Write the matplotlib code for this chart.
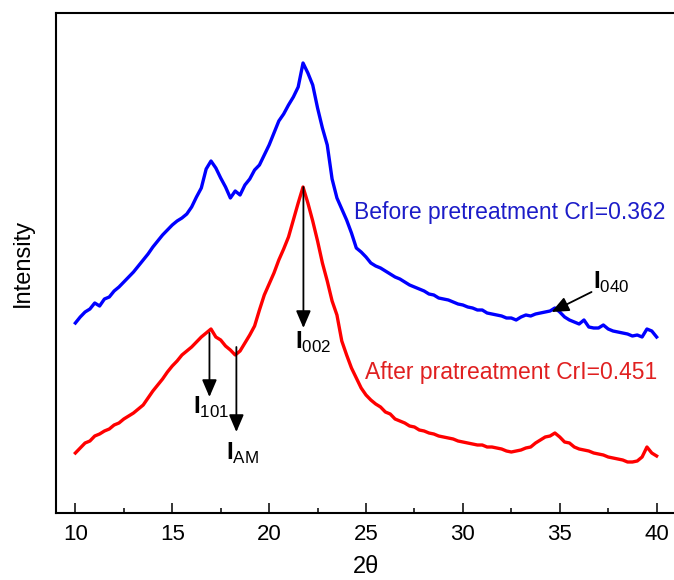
import numpy as np
import matplotlib
matplotlib.use('Agg')
import matplotlib.pyplot as plt

plt.rcParams['font.family'] = ['Liberation Sans', 'DejaVu Sans']
plt.rcParams['mathtext.fontset'] = 'custom'
plt.rcParams['mathtext.rm'] = 'Liberation Sans'
plt.rcParams['mathtext.bf'] = 'Liberation Sans:bold'

# 2theta sampling (deg) and intensities (arb. units, offset curves)
two_theta = np.arange(10, 40.001, 0.25)

before = [190, 196, 201, 204, 210, 207, 214, 216, 222, 226, 231, 236,
          241, 247, 253, 259, 266, 272, 278, 283, 288, 292, 295, 299,
          306, 316, 325, 344, 352, 345, 335, 326, 315, 322, 318, 328,
          334, 343, 348, 358, 368, 380, 392, 399, 408, 416, 426, 450,
          440, 428, 405, 385, 368, 334, 315, 304, 293, 280, 265, 261,
          256, 250, 247, 245, 242, 239, 236, 234, 231, 228, 226, 224,
          222, 219, 218, 215, 214, 213, 211, 209, 208, 206, 205, 203,
          203, 200, 199, 198, 197, 195, 195, 193, 196, 198, 197, 199,
          200, 201, 202, 205, 201, 196, 193, 191, 189, 193, 186, 185,
          185, 188, 184, 182, 181, 180, 179, 177, 178, 176, 184, 182,
          176]

after = [60, 65, 70, 72, 77, 79, 82, 84, 88, 90, 94, 97,
         100, 104, 108, 115, 122, 128, 134, 141, 147, 152, 158, 162,
         166, 171, 176, 180, 184, 176, 173, 167, 163, 158, 162, 170,
         178, 187, 203, 218, 229, 240, 253, 264, 276, 293, 310, 326,
         310, 292, 272, 250, 232, 212, 198, 172, 158, 145, 135, 125,
         118, 113, 109, 106, 101, 99, 94, 92, 90, 87, 86, 83,
         82, 80, 79, 77, 76, 75, 74, 72, 71, 70, 69, 68,
         68, 66, 66, 65, 64, 62, 61, 62, 63, 65, 66, 70,
         73, 76, 77, 80, 76, 71, 70, 66, 64, 63, 62, 60,
         59, 58, 56, 55, 54, 53, 51, 51, 52, 56, 66, 60,
         57]

label_before = 'Before pretreatment CrI=0.362'
label_after = 'After pratreatment CrI=0.451'

# peak markers: (label, arrow start, arrow tip, label top-left)
peaks = [
    (r'$\mathbf{I}_{002}$', (21.77, 326), (21.77, 185), (21.35, 183)),
    (r'$\mathbf{I}_{101}$', (16.92, 180), (16.92, 116), (16.05, 118)),
    (r'$\mathbf{I}_{\mathrm{AM}}$', (18.31, 166), (18.31, 81), (17.75, 72)),
    (r'$\mathbf{I}_{040}$', (36.64, 221), (34.57, 201), (36.72, 243)),
]

fig = plt.figure(figsize=(6.74, 5.80), dpi=100)
ax = fig.add_axes([56/674, 67/580, 620/674, 500/580])

ax.plot(two_theta, before, color='#0000ff', lw=2.4)
ax.plot(two_theta, after, color='#ff0000', lw=2.4)

ax.text(24.4, 301, label_before, color='#1c1cc8', fontsize=16.5, va='center', ha='left')
ax.text(24.95, 141, label_after, color='#e02020', fontsize=16.5, va='center', ha='left')

for lab, start, tip, pos in peaks:
    ax.annotate('', xy=tip, xytext=start,
                arrowprops=dict(arrowstyle='-|>,head_length=0.7,head_width=0.3',
                                color='k', lw=1.3, mutation_scale=15,
                                shrinkA=0, shrinkB=0))
    ax.text(pos[0], pos[1], lab, fontsize=17.5, va='top', ha='left')

ax.set_xlim(9, 41)
ax.set_ylim(0, 500)
ax.set_xticks([10, 15, 20, 25, 30, 35, 40])
ax.set_xticks(np.arange(12.5, 40, 5), minor=True)
ax.set_yticks([])
ax.tick_params(axis='x', which='major', direction='in', length=7, width=1.1,
               labelsize=16, pad=8)
ax.tick_params(axis='x', which='minor', direction='in', length=3.6, width=1.1)
for s in ax.spines.values():
    s.set_linewidth(1.5)

ax.set_xlabel('2θ', fontsize=17, labelpad=8)
ax.set_ylabel('Intensity', fontsize=17, labelpad=16)

fig.savefig('out.png', dpi=100)
